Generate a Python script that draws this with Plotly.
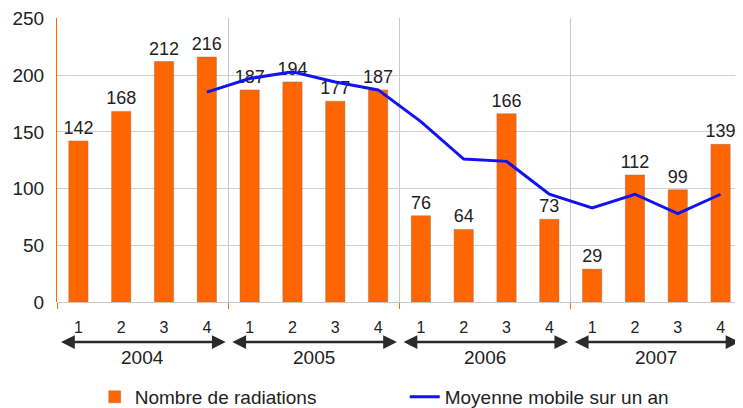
import plotly.graph_objects as go

# Donnees
years = ["2004", "2005", "2006", "2007"]
quarters = ["1", "2", "3", "4"]
radiations = [142, 168, 212, 216, 187, 194, 177, 187, 76, 64, 166, 73, 29, 112, 99, 139]
moyenne = [None, None, None, 185, 197, 203, 194, 187, 159, 126, 124, 95, 83, 95, 78, 95]
y_ticks = [0, 50, 100, 150, 200, 250]

x = list(range(len(radiations)))
ticktext = quarters * len(years)

FONT = "Liberation Sans, Arial, sans-serif"
ORANGE = "#ff6600"

fig = go.Figure()

fig.add_trace(go.Bar(
    x=x, y=radiations,
    name="Nombre de radiations",
    marker={"color": ORANGE, "line": {"color": "rgba(150,110,90,0.45)", "width": 1}},
    width=0.45,
    text=radiations, textposition="outside", constraintext="none",
    textfont={"size": 18, "color": "#222222", "family": FONT},
    cliponaxis=False,
))

fig.add_trace(go.Scatter(
    x=x, y=moyenne,
    name="Moyenne mobile sur un an",
    mode="lines",
    line={"color": "#1212f2", "width": 3},
))

# fleches doubles sous chaque annee + libelle de l'annee
annotations = []
for i, yr in enumerate(years):
    start = i * 4 - 0.5
    end = start + 4
    annotations.append(dict(
        x=end - 0.06, ax=start + 0.06, axref="x", xref="x",
        y=-0.141, yref="paper", ay=0, ayref="pixel",
        text="", showarrow=True, arrowside="end+start",
        arrowhead=2, arrowsize=1.1, arrowwidth=2.5, arrowcolor="#2a2a2a",
        standoff=0, startstandoff=0,
    ))
    annotations.append(dict(
        x=start + 2, xref="x", y=-0.194, yref="paper", yanchor="middle",
        text=yr, showarrow=False,
        font={"size": 19, "color": "#222222", "family": FONT},
    ))

# la page est decalee de 8 px (marge du body) : figure reduite d'autant
fig.update_layout(
    width=735, height=400,
    margin=dict(l=49, r=1, t=10, b=106, autoexpand=False),
    plot_bgcolor="white", paper_bgcolor="white",
    font={"family": FONT, "color": "#222222"},
    showlegend=True,
    legend=dict(
        orientation="h", xref="container", x=0.118, xanchor="left",
        yref="container", y=0.0275, yanchor="middle",
        font={"size": 19, "family": FONT, "color": "#222222"},
        entrywidth=265, entrywidthmode="pixels",
    ),
    annotations=annotations,
)

fig.update_xaxes(
    range=[-0.5, 15.5],
    tickmode="array", tickvals=x, ticktext=ticktext,
    ticks="", ticklabelstandoff=14,
    tickfont={"size": 16, "family": FONT, "color": "#222222"},
    showgrid=False, zeroline=False, showline=False,
    minor=dict(
        tickmode="linear", tick0=-0.5, dtick=4,
        ticks="outside", ticklen=6, tickcolor=ORANGE, tickwidth=1,
        showgrid=True, gridcolor="#c8c8c8", gridwidth=1,
    ),
)

fig.update_yaxes(
    range=[0, 250.4], tickmode="array", tickvals=y_ticks,
    showgrid=True, gridcolor="#d0d0d0", gridwidth=1,
    zeroline=True, zerolinecolor="#c8c8c8", zerolinewidth=1,
    showline=True, linecolor=ORANGE, linewidth=1,
    ticks="", ticklabelstandoff=8,
    tickfont={"size": 19, "family": FONT, "color": "#222222"},
)

fig.write_html("out.html")
